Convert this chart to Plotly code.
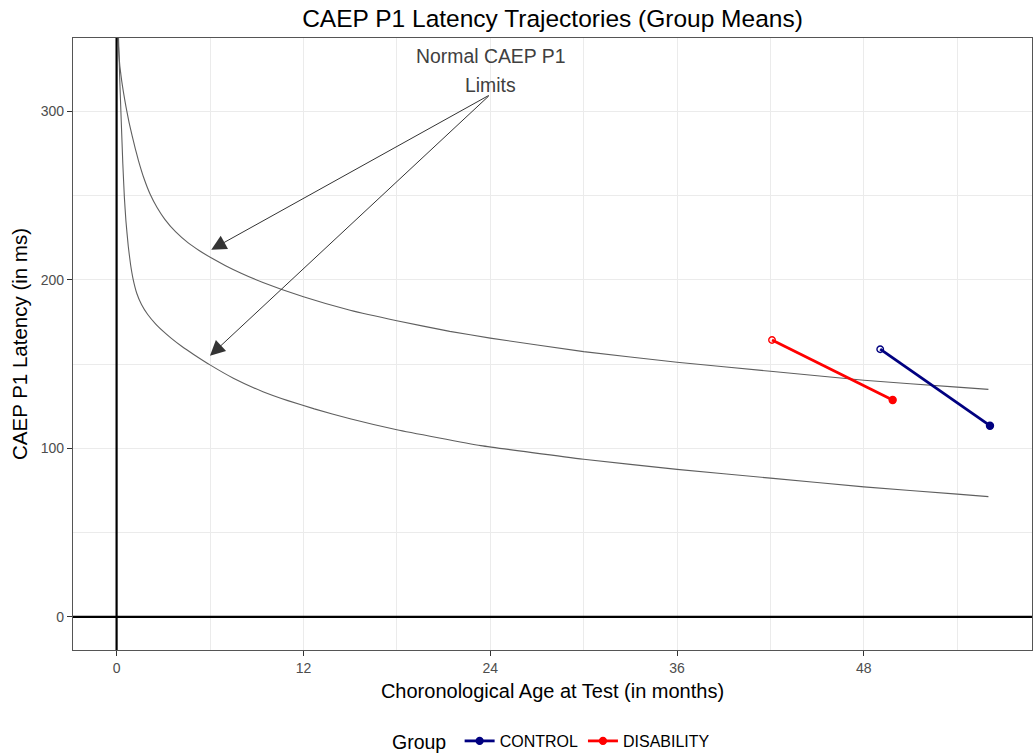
import plotly.graph_objects as go

# ---- data ----
upper_age = [0.08, 0.15, 0.22, 0.33, 0.44, 0.55, 0.66, 0.8, 1.0, 1.2, 1.4, 1.75, 2.15, 2.6, 3.1, 3.8,
             4.6, 5.3, 6.1, 7.0, 8.0, 9.4, 12, 15, 18, 21.4, 24, 30, 36, 42, 48, 54, 56]
upper_lat = [345, 334, 326, 318, 311.5, 305.5, 300, 293.5, 285.5, 278, 271, 260.5, 251, 243, 236, 228.5,
             222, 217.5, 213, 208.5, 204, 198.5, 190, 182, 175.8, 169.5, 165.5, 157.5, 151.2, 145.8, 140.5, 136.4, 135.1]

lower_age = [0.12, 0.2, 0.3, 0.4, 0.5, 0.6, 0.75, 0.9, 1.05, 1.3, 1.6, 2.0, 2.5, 3.0, 3.5, 4.2, 5.0,
             6.0, 7.5, 9.4, 11, 12.7, 15, 18, 23.4, 30, 36, 42, 48, 54, 56]
lower_lat = [345, 320, 294, 269, 249, 235, 220, 209, 201, 192, 185.5, 179.5, 174, 169.5, 165.5, 160.5, 155.5,
             149.6, 141.7, 133.7, 128.4, 123.5, 117.6, 111.1, 101.7, 93.6, 87.6, 82.4, 77.2, 72.9, 71.4]

groups = ["CONTROL", "DISABILITY"]
group_colors = ["#000080", "#FF0000"]
# (first test, second test)
group_age = [[49.05, 56.1], [42.1, 49.85]]
group_lat = [[158.9, 113.5], [164.4, 128.8]]

x_ticks = [0, 12, 24, 36, 48]
y_ticks = [0, 100, 200, 300]

title = "CAEP P1 Latency Trajectories (Group Means)"
x_title = "Choronological Age at Test (in months)"
y_title = "CAEP P1 Latency (in ms)"
note_lines = ["Normal CAEP P1", "Limits"]
note_pos = [(24, 333), (24, 315.7)]
arrow_from = (24, 310)
arrow_to = [(6.08, 218), (6.0, 155)]

FONT = "Liberation Sans, Arial, sans-serif"

fig = go.Figure()

for xs, ys in [(upper_age, upper_lat), (lower_age, lower_lat)]:
    fig.add_trace(go.Scatter(x=xs, y=ys, mode="lines", showlegend=False,
                             line=dict(color="#5f5f5f", width=1.1, shape="spline", smoothing=0.4),
                             hoverinfo="skip"))

for name, col, xs, ys in zip(groups, group_colors, group_age, group_lat):
    # reversed order so the legend picks the filled symbol
    fig.add_trace(go.Scatter(
        x=xs[::-1], y=ys[::-1], mode="lines+markers", name=name,
        line=dict(color=col, width=2.8),
        marker=dict(color=col, size=[7, 6.5], symbol=["circle", "circle-open"], opacity=1,
                    line=dict(color=col, width=1.4)),
    ))

shapes = [
    dict(type="line", xref="x", yref="paper", x0=0, x1=0, y0=0, y1=1,
         line=dict(color="black", width=2.2), layer="above"),
    dict(type="line", xref="paper", yref="y", x0=0, x1=1, y0=0, y1=0,
         line=dict(color="black", width=2.2), layer="above"),
]

annotations = []
for (tx, ty), txt in zip(note_pos, note_lines):
    annotations.append(dict(x=tx, y=ty, xref="x", yref="y", text=txt, showarrow=False,
                            font=dict(family=FONT, size=19.4, color="#404040"),
                            xanchor="center", yanchor="middle"))
for (hx, hy) in arrow_to:
    annotations.append(dict(x=hx, y=hy, xref="x", yref="y", ax=arrow_from[0], ay=arrow_from[1],
                            axref="x", ayref="y", text="", showarrow=True,
                            arrowhead=2, arrowsize=3, arrowwidth=1.0, arrowcolor="#333333",
                            standoff=0, startstandoff=0))

axis_common = dict(showgrid=True, gridcolor="#ebebeb", gridwidth=1, automargin=False,
                   zeroline=False, showline=True, linecolor="#555555", linewidth=1.2,
                   mirror=True, ticks="outside", ticklen=5, tickcolor="#333333",
                   tickfont=dict(family=FONT, size=14, color="#4d4d4d"))

fig.update_layout(
    width=1034, height=755,
    margin=dict(l=73, r=2, t=38, b=105, autoexpand=False),
    paper_bgcolor="white", plot_bgcolor="white",
    title=dict(text=title, x=(73 + 1032) / 2 / 1034, xanchor="center", y=1 - 18 / 755, yanchor="middle",
               font=dict(family=FONT, size=24.5, color="black")),
    xaxis=dict(range=[-2.8, 58.8], tickvals=x_ticks, ticktext=[str(v) for v in x_ticks],
               minor=dict(dtick=6, tick0=0, showgrid=True, gridcolor="#ebebeb", gridwidth=1, ticks=""),
               title=dict(text=x_title, standoff=9, font=dict(family=FONT, size=20, color="black")),
               **axis_common),
    yaxis=dict(range=[-19.6, 343.6], tickvals=y_ticks, ticktext=[str(v) for v in y_ticks],
               minor=dict(dtick=50, tick0=0, showgrid=True, gridcolor="#ebebeb", gridwidth=1, ticks=""),
               title=dict(text=y_title, standoff=7, font=dict(family=FONT, size=20.5, color="black")),
               **axis_common),
    legend=dict(orientation="h", x=0.5, xanchor="center", yref="container", y=(755 - 742) / 755,
                yanchor="middle",
                title=dict(text="Group ", font=dict(family=FONT, size=19.5, color="black"), side="left"),
                font=dict(family=FONT, size=16, color="black"), bgcolor="rgba(0,0,0,0)"),
    shapes=shapes,
    annotations=annotations,
    showlegend=True,
)

fig.write_html("out.html")
